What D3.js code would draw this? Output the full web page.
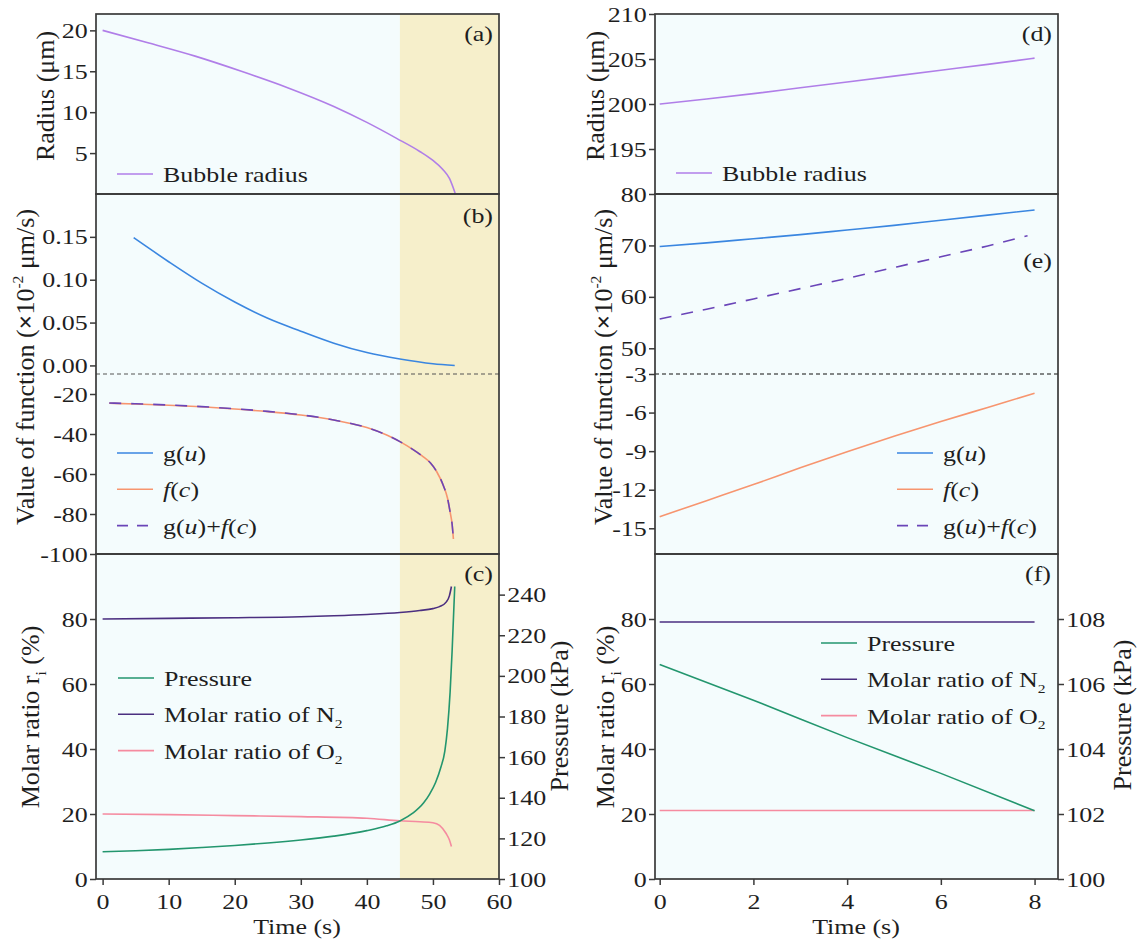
<!DOCTYPE html>
<html>
<head>
<meta charset="utf-8">
<script src="https://cdn.jsdelivr.net/npm/d3@7"></script>
<style>
  body { margin: 0; background: #fff; }
  svg text { font-family: "Liberation Serif", "DejaVu Serif", serif; }
</style>
</head>
<body>
<script>
// ---- data ----
// (a) shrinking bubble
const timeA = [0, 7, 14, 21, 28, 35, 40, 44.5, 48, 50, 51.5, 52.5, 53.4];
const radiusA = [20, 18.45, 16.85, 15.0, 13.0, 10.7, 8.75, 6.8, 5.2, 4.1, 3.0, 1.9, 0];

// (b) function values
const timeGA = [4.7, 10, 15, 20, 25, 30, 35, 40, 45, 50, 53.3];
const gA = [0.149, 0.121, 0.096, 0.074, 0.055, 0.040, 0.026, 0.015, 0.0075, 0.002, 0.0];
const timeFA = [1, 5, 10, 15, 20, 25, 30, 35, 40, 43, 45, 47, 48.5, 49.6, 50.6, 51.6, 52.2, 52.6, 52.9, 53.1];
const fA = [-24.6, -25.0, -25.6, -26.4, -27.5, -28.8, -30.5, -33.0, -36.8, -40.5, -43.8, -47.8, -51.3, -54.4, -59.0, -66.0, -72.0, -79.0, -85.0, -92.5];
const sumA = [-24.5, -24.9, -25.5, -26.3, -27.4, -28.7, -30.4, -33.0, -36.8, -40.5, -43.8, -47.8, -51.3, -54.4, -59.0, -66.0, -72.0, -79.0, -85.0, -92.5];

// (c) molar ratios and pressure
const timeN2A = [0, 10, 20, 30, 35, 40, 45, 48, 50, 51, 52, 52.5, 52.8];
const n2A = [80, 80.2, 80.4, 80.7, 81.0, 81.4, 82.0, 82.6, 83.2, 83.8, 85.2, 87.2, 90.0];
const timeO2A = [0, 10, 20, 30, 40, 45, 48, 50, 51, 52, 52.5, 52.8];
const o2A = [20, 19.8, 19.5, 19.2, 18.7, 17.9, 17.6, 17.3, 16.5, 14.0, 12.0, 10.0];
const timePA = [0, 5, 10, 15, 20, 25, 30, 35, 40, 43, 45, 47, 48.6, 49.5, 50.4, 51.2, 51.8, 52.2, 52.6, 52.9, 53.3];
const pA = [113.4, 113.9, 114.6, 115.5, 116.5, 117.7, 119.2, 121.1, 123.8, 126.2, 128.6, 132.5, 137.5, 141.8, 147.5, 155.0, 163.0, 174.0, 192.0, 212.0, 244.0];

// (d)-(f) growing bubble
const timeR = [0, 1, 2, 3, 4, 5, 6, 7, 8];
const radiusR = [200, 200.55, 201.15, 201.8, 202.45, 203.1, 203.75, 204.4, 205.1];
const gR = [69.8, 70.5, 71.3, 72.1, 73.0, 73.9, 74.9, 75.9, 76.9];
const fR = [-14.1, -12.85, -11.6, -10.3, -9.05, -7.85, -6.7, -5.6, -4.5];
const timeSumR = [0, 1, 2, 3, 4, 5, 6, 7, 7.85];
const sumR = [55.7, 57.6, 59.6, 61.6, 63.6, 65.7, 67.8, 69.9, 71.9];
const timeF = [0, 2, 4, 6, 8];
const pR = [106.6, 105.5, 104.35, 103.25, 102.1];
const n2R = [79.1, 79.1, 79.1, 79.1, 79.1];
const o2R = [21.1, 21.1, 21.1, 21.1, 21.1];

// highlighted interval in the left column
const highlight = [45, 60];

// ---- setup ----
const W = 1137, H = 942;
const SX = 1.18; // horizontal glyph stretch seen in the figure
const C = {
  bg: "#f4fcfd", hi: "#f6efcb", frame: "#3a3a3a", text: "#1e1e1e",
  radius: "#b07ee8", g: "#3a86e0", f: "#f7956f", sum: "#6a45b8",
  p: "#23966e", n2: "#4b2f80", o2: "#f58ba0"
};

const svg = d3.select("body").append("svg").attr("width", W).attr("height", H);

const xL = d3.scaleLinear().domain([-1, 60]).range([96, 499]);
const xR = d3.scaleLinear().domain([-0.1, 8.5]).range([655, 1058]);

// vertical bands
const yTop = 14, brk1 = 194, mid = 374, brk2 = 554, yBot = 879;

const yA = d3.scaleLinear().domain([0, 22]).range([brk1, yTop]);
const yBup = d3.scaleLinear().domain([-0.01, 0.2]).range([mid, brk1]);
const yBlo = d3.scaleLinear().domain([-100, -10]).range([brk2, mid]);
const yC = d3.scaleLinear().domain([0, 100]).range([yBot, brk2]);
const yCP = d3.scaleLinear().domain([100, 260]).range([yBot, brk2]);

const yD = d3.scaleLinear().domain([190, 210]).range([brk1, yTop]);
const yEup = d3.scaleLinear().domain([45, 80]).range([mid, brk1]);
const yElo = d3.scaleLinear().domain([-17, -3]).range([brk2, mid]);
const yF = d3.scaleLinear().domain([0, 100]).range([yBot, brk2]);
const yFP = d3.scaleLinear().domain([100, 110]).range([yBot, brk2]);

// text with italic / sub / sup pieces
function addText(parent, x, y, parts, opts = {}) {
  const fs = opts.size || 22;
  let tr = `translate(${x},${y})`;
  if (opts.rotate) tr += ` rotate(${opts.rotate})`;
  else tr += ` scale(${SX},1)`;
  const t = parent.append("text")
    .attr("font-size", fs).attr("fill", C.text)
    .attr("text-anchor", opts.anchor || "start")
    .attr("transform", tr);
  let cur = 0;
  (typeof parts === "string" ? [[parts]] : parts).forEach(([s, k]) => {
    const target = k === "sub" ? 0.25 * fs : k === "sup" ? -0.42 * fs : 0;
    const ts = t.append("tspan").text(s).attr("dy", target - cur);
    cur = target;
    if (k === "sub" || k === "sup") ts.attr("font-size", fs * 0.6);
    if (k === "i") ts.attr("font-style", "italic");
    if (k === "b") ts.attr("font-weight", "bold");
  });
  return t;
}

// backgrounds
svg.append("rect").attr("x", xL.range()[0]).attr("y", yTop)
  .attr("width", xL.range()[1] - xL.range()[0]).attr("height", yBot - yTop).attr("fill", C.bg);
svg.append("rect").attr("x", xL(highlight[0])).attr("y", yTop)
  .attr("width", xL(highlight[1]) - xL(highlight[0])).attr("height", yBot - yTop).attr("fill", C.hi);
svg.append("rect").attr("x", xR.range()[0]).attr("y", yTop)
  .attr("width", xR.range()[1] - xR.range()[0]).attr("height", yBot - yTop).attr("fill", C.bg);

// break lines
svg.append("line").attr("x1", 96).attr("x2", 499).attr("y1", mid).attr("y2", mid)
  .attr("stroke", "#555").attr("stroke-width", 1.2).attr("stroke-dasharray", "4,3");
svg.append("line").attr("x1", 655).attr("x2", 1058).attr("y1", mid).attr("y2", mid)
  .attr("stroke", "#111").attr("stroke-width", 1.2).attr("stroke-dasharray", "4,3");

function drawLine(xs, ys, xs_, ys_, color, dash) {
  const pts = xs.map((t, i) => [t, ys[i]]);
  svg.append("path").datum(pts)
    .attr("d", d3.line().x(d => xs_(d[0])).y(d => ys_(d[1])).curve(d3.curveMonotoneX))
    .attr("fill", "none").attr("stroke", color).attr("stroke-width", 1.6)
    .attr("stroke-dasharray", dash || null);
}

// left column curves
drawLine(timeA, radiusA, xL, yA, C.radius);
drawLine(timeGA, gA, xL, yBup, C.g);
drawLine(timeFA, fA, xL, yBlo, C.f);
drawLine(timeFA, sumA, xL, yBlo, C.sum, "12,10");
drawLine(timeO2A, o2A, xL, yC, C.o2);
drawLine(timeN2A, n2A, xL, yC, C.n2);
drawLine(timePA, pA, xL, yCP, C.p);

// right column curves
drawLine(timeR, radiusR, xR, yD, C.radius);
drawLine(timeR, gR, xR, yEup, C.g);
drawLine(timeR, fR, xR, yElo, C.f);
drawLine(timeSumR, sumR, xR, yEup, C.sum, "12,10");
drawLine(timeF, o2R, xR, yF, C.o2);
drawLine(timeF, n2R, xR, yF, C.n2);
drawLine(timeF, pR, xR, yFP, C.p);

// frames
[[96, 499], [655, 1058]].forEach(([x0, x1]) => {
  [[yTop, brk1], [brk1, brk2], [brk2, yBot]].forEach(([y0, y1]) => {
    svg.append("rect").attr("x", x0).attr("y", y0).attr("width", x1 - x0).attr("height", y1 - y0)
      .attr("fill", "none").attr("stroke", C.frame).attr("stroke-width", 1.7);
  });
});

// axes
const intFmt = d => String(d);
function styleAxis(g) {
  g.attr("font-size", 22);
  g.select(".domain").remove();
  g.selectAll(".tick line").attr("stroke", C.frame).attr("stroke-width", 1.5);
  g.selectAll(".tick text").attr("fill", C.text).attr("transform", `scale(${SX},1)`);
}
function yAxis(x, scale, vals, fmt, side) {
  const ax = (side === "right" ? d3.axisRight(scale) : d3.axisLeft(scale))
    .tickValues(vals).tickSize(6).tickPadding(1).tickFormat(fmt || intFmt);
  svg.append("g").attr("transform", `translate(${x},0)`).call(ax).call(styleAxis);
}
function xAxis(scale, vals) {
  const ax = d3.axisBottom(scale).tickValues(vals).tickSize(6).tickPadding(8).tickFormat(intFmt);
  svg.append("g").attr("transform", `translate(0,${yBot})`).call(ax).call(styleAxis);
}

yAxis(96, yA, [5, 10, 15, 20]);
yAxis(96, yBup, [0, 0.05, 0.10, 0.15], d3.format(".2f"));
yAxis(96, yBlo, [-20, -40, -60, -80, -100]);
yAxis(96, yC, [0, 20, 40, 60, 80]);
yAxis(499, yCP, [100, 120, 140, 160, 180, 200, 220, 240], null, "right");
xAxis(xL, [0, 10, 20, 30, 40, 50, 60]);

yAxis(655, yD, [195, 200, 205, 210]);
yAxis(655, yEup, [50, 60, 70, 80]);
yAxis(655, yElo, [-3, -6, -9, -12, -15]);
yAxis(655, yF, [0, 20, 40, 60, 80]);
yAxis(1058, yFP, [100, 102, 104, 106, 108], null, "right");
xAxis(xR, [0, 2, 4, 6, 8]);

// axis titles
const vfParts = [["Value of function ("], ["×", "b"], ["10"], ["-2", "sup"], [" μm/s)"]];
const molParts = [["Molar ratio r"], ["i", "sub"], [" (%)"]];
const rot = { rotate: -90, anchor: "middle", size: 26 };
addText(svg, 54, 96, "Radius (μm)", rot);
addText(svg, 34, 367, vfParts, rot);
addText(svg, 39, 717, molParts, rot);
addText(svg, 568, 716, "Pressure (kPa)", rot);
addText(svg, 297, 933.5, "Time (s)", { anchor: "middle" });

addText(svg, 604, 96, "Radius (μm)", rot);
addText(svg, 612, 367, vfParts, rot);
addText(svg, 614, 717, molParts, rot);
addText(svg, 1131, 715, "Pressure (kPa)", rot);
addText(svg, 856, 933.5, "Time (s)", { anchor: "middle" });

// panel letters
[["(a)", 493, 41], ["(b)", 493, 223], ["(c)", 493, 581],
 ["(d)", 1052, 41], ["(e)", 1052, 268], ["(f)", 1051, 581]].forEach(([s, x, y]) =>
  addText(svg, x, y, s, { anchor: "end" }));

// legends
function legend(x, y0, items) {
  items.forEach((it, i) => {
    const y = y0 + i * 36.3;
    svg.append("line").attr("x1", x).attr("x2", x + 36).attr("y1", y).attr("y2", y)
      .attr("stroke", it.color).attr("stroke-width", 1.6).attr("stroke-dasharray", it.dash || null);
    addText(svg, x + 46, y + 8, it.label);
  });
}
const gLab = [["g("], ["u", "i"], [")"]];
const fLab = [["f", "i"], ["("], ["c", "i"], [")"]];
const sLab = [["g("], ["u", "i"], [")+"], ["f", "i"], ["("], ["c", "i"], [")"]];
const fnItems = [
  { color: C.g, label: gLab },
  { color: C.f, label: fLab },
  { color: C.sum, label: sLab, dash: "11,9" }
];
const gasItems = [
  { color: C.p, label: "Pressure" },
  { color: C.n2, label: [["Molar ratio of N"], ["2", "sub"]] },
  { color: C.o2, label: [["Molar ratio of O"], ["2", "sub"]] }
];
legend(117, 174, [{ color: C.radius, label: "Bubble radius" }]);
legend(676, 173, [{ color: C.radius, label: "Bubble radius" }]);
legend(117, 453, fnItems);
legend(897, 453, fnItems);
legend(118, 678, gasItems);
legend(821, 643, gasItems);
</script>
</body>
</html>
